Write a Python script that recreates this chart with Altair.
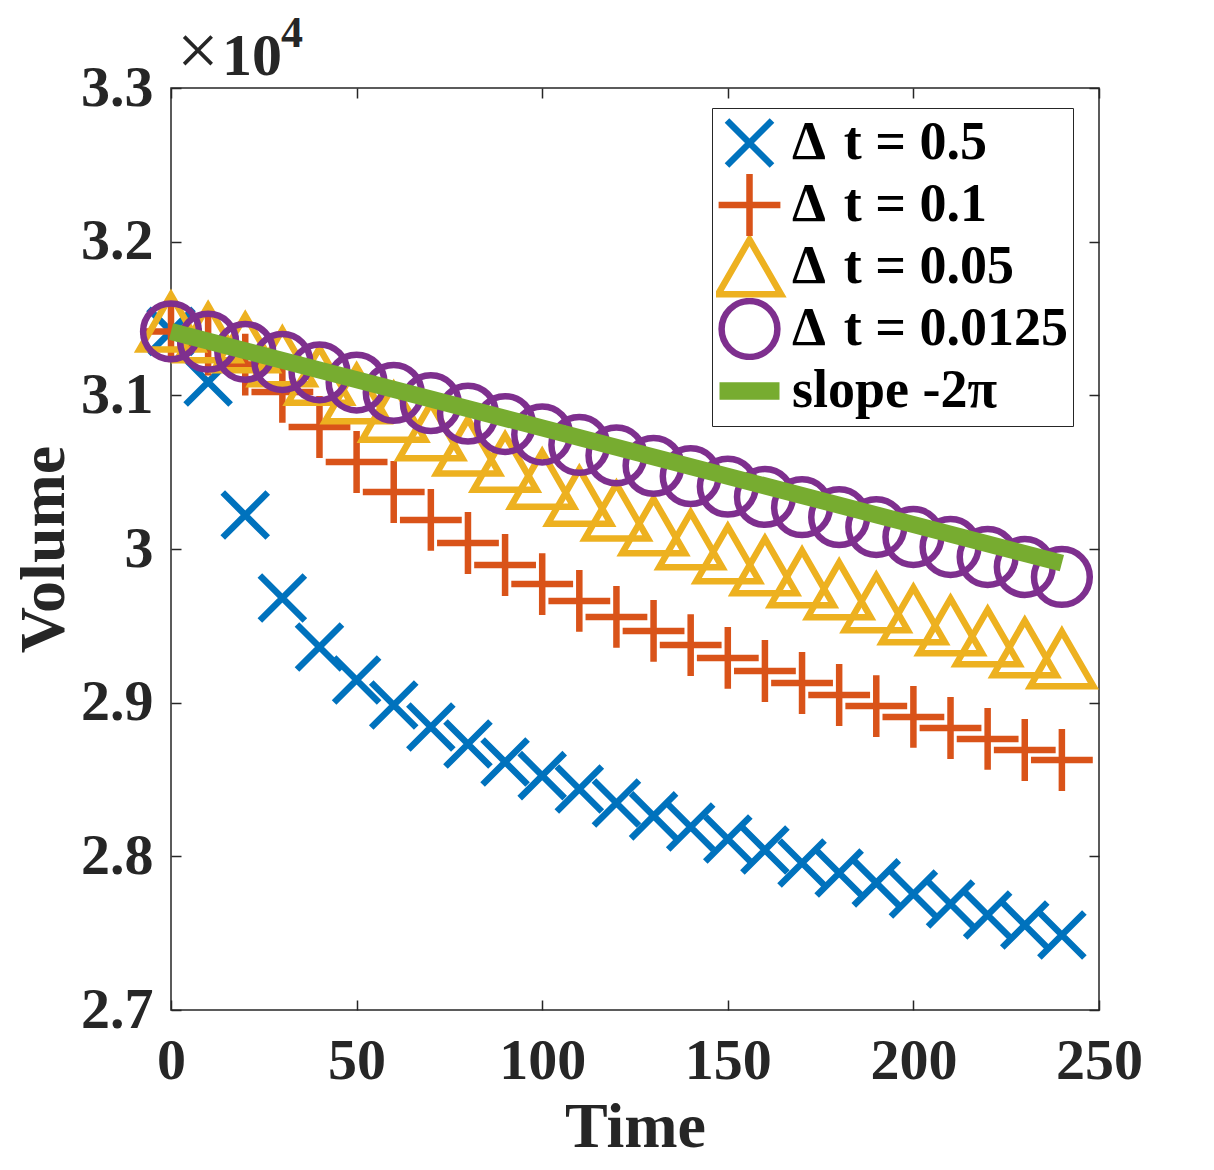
import altair as alt
import pandas as pd

# ---------------- data (volume in units of 1e4) ----------------
time = [0, 10, 20, 30, 40, 50, 60, 70, 80, 90, 100, 110, 120,
        130, 140, 150, 160, 170, 180, 190, 200, 210, 220, 230, 240]

vol_dt_0_5 = [3.1416, 3.1087, 3.0221, 2.9681, 2.9362, 2.9148, 2.8985, 2.8842,
              2.8731, 2.8614, 2.8525, 2.8438, 2.8347, 2.8263, 2.8191, 2.8113,
              2.8041, 2.7957, 2.7892, 2.7827, 2.7755, 2.7690, 2.7618, 2.7553, 2.7488]
vol_dt_0_1 = [3.1416, 3.1330, 3.1200, 3.1022, 3.0794, 3.0566, 3.0371, 3.0189,
              3.0039, 2.9896, 2.9772, 2.9662, 2.9558, 2.9467, 2.9375, 2.9291,
              2.9206, 2.9128, 2.9050, 2.8978, 2.8907, 2.8835, 2.8764, 2.8692, 2.8627]
vol_dt_0_05 = [3.1475, 3.1406, 3.1341, 3.1249, 3.1129, 3.1009, 3.0889, 3.0768,
               3.0668, 3.0563, 3.0453, 3.0342, 3.0245, 3.0149, 3.0059, 2.9968,
               2.9890, 2.9812, 2.9734, 2.9649, 2.9571, 2.9499, 2.9428, 2.9356, 2.9285]
vol_dt_0_0125 = [3.1416, 3.1349, 3.1283, 3.1217, 3.1150, 3.1083, 3.1016, 3.0949,
                 3.0881, 3.0813, 3.0745, 3.0677, 3.0609, 3.0541, 3.0474, 3.0406,
                 3.0339, 3.0272, 3.0207, 3.0143, 3.0078, 3.0013, 2.9948, 2.9883, 2.9818]
slope_time = [0, 240]
slope_vol = [3.14159, 2.99080]

series_names = ["Δ\u2004t = 0.5", "Δ\u2004t = 0.1", "Δ\u2004t = 0.05", "Δ\u2004t = 0.0125", "slope -2π"]
series_colors = ["#0072BD", "#D95319", "#EDB120", "#7E2F8E", "#77AC30"]

x_ticks = [0, 50, 100, 150, 200, 250]
y_ticks = [2.7, 2.8, 2.9, 3.0, 3.1, 3.2, 3.3]

# marker outlines (unit paths, scaled by sqrt(size)/2)
X_PATH = "M-0.75,-0.75L0.75,0.75M-0.75,0.75L0.75,-0.75"
PLUS_PATH = "M-1.03,0L1.03,0M0,-1.03L0,1.03"
TRI_PATH = "M0,-0.909L1.05,0.909L-1.05,0.909Z"
CIRC_PATH = "M0.93,0A0.93,0.93,0,1,1,-0.93,0A0.93,0.93,0,1,1,0.93,0Z"
BAR_PATH = "M-1,-0.18L1,-0.18M-1,-0.09L1,-0.09M-1,0L1,0M-1,0.09L1,0.09M-1,0.18L1,0.18"
series_shapes = [X_PATH, PLUS_PATH, TRI_PATH, CIRC_PATH, BAR_PATH]

rows = []
for name, vals in zip(series_names[:4], [vol_dt_0_5, vol_dt_0_1, vol_dt_0_05, vol_dt_0_0125]):
    for t, v in zip(time, vals):
        rows.append({"time": t, "volume": v, "series": name})
df = pd.DataFrame(rows)
slope_df = pd.DataFrame({"time": slope_time, "volume": slope_vol})

FONT = "Liberation Serif"
AX = "#262626"

xs = alt.Scale(domain=[0, 250], nice=False, zero=False)
ys = alt.Scale(domain=[2.7, 3.3], nice=False, zero=False)

legend = alt.Legend(
    title=None, orient="none", legendX=541, legendY=20, direction="vertical",
    labelFont=FONT, labelFontWeight="bold", labelFontSize=54, labelColor="black",
    labelLimit=600, labelOffset=9, symbolSize=3600, symbolStrokeWidth=6.5,
    padding=4, rowPadding=0, clipHeight=62, strokeColor=AX, fillColor="white", zindex=1,
)

common_axis = dict(
    grid=False, domain=False, ticks=True, tickSize=10, tickWidth=1.5,
    tickColor=AX, offset=-10, labelFont=FONT, labelFontWeight="bold",
    labelColor=AX, titleFont=FONT, titleFontWeight="bold", titleColor=AX,
    labelFlush=False,
)

points = alt.Chart(df).mark_point(
    filled=False, opacity=1, strokeWidth=6.5, size=3600, strokeJoin="miter"
).encode(
    x=alt.X("time:Q", scale=xs, axis=alt.Axis(
        orient="bottom", values=x_ticks, labelFontSize=58, labelPadding=22,
        title="Time", titleFontSize=64, titlePadding=5, format="d", **common_axis)),
    y=alt.Y("volume:Q", scale=ys, axis=alt.Axis(
        orient="left", values=y_ticks, labelFontSize=58, labelPadding=18,
        labelExpr="format(datum.value, '.1~f')",
        title="Volume", titleFontSize=64, titlePadding=4, **common_axis)),
    color=alt.Color("series:N", scale=alt.Scale(domain=series_names, range=series_colors), legend=legend),
    shape=alt.Shape("series:N", scale=alt.Scale(domain=series_names, range=series_shapes), legend=legend),
)

slope_line = alt.Chart(slope_df).mark_line(
    strokeWidth=17, strokeCap="butt", color="#77AC30"
).encode(
    x=alt.X("time:Q", scale=xs, axis=None),
    y=alt.Y("volume:Q", scale=ys, axis=None),
)

frame = alt.Chart(slope_df).mark_point(opacity=0).encode(
    x=alt.X("time:Q", scale=xs, axis=alt.Axis(
        orient="top", values=x_ticks, labels=False, title=None, **common_axis)),
    y=alt.Y("volume:Q", scale=ys, axis=alt.Axis(
        orient="right", values=y_ticks, labels=False, title=None, **common_axis)),
)

times_sign = alt.Chart(pd.DataFrame({"s": ["×"]})).mark_text(
    font=FONT, fontSize=74, fontWeight="normal", color=AX, align="left", baseline="alphabetic"
).encode(text="s:N", x=alt.value(6), y=alt.value(-13))

ten = alt.Chart(pd.DataFrame({"s": ["10"]})).mark_text(
    font=FONT, fontSize=60, fontWeight="bold", color=AX, align="left", baseline="alphabetic"
).encode(text="s:N", x=alt.value(51), y=alt.value(-13))

exponent = alt.Chart(pd.DataFrame({"s": ["4"]})).mark_text(
    font=FONT, fontSize=44, fontWeight="bold", color=AX, align="left", baseline="alphabetic"
).encode(text="s:N", x=alt.value(110), y=alt.value(-41))

chart = alt.layer(points, slope_line, frame, times_sign, ten, exponent).resolve_axis(
    x="independent", y="independent"
).properties(
    width=928, height=922,
    autosize=alt.AutoSizeParams(type="none"),
    padding={"left": 163, "top": 80, "right": 107, "bottom": 152},
).configure_view(stroke=AX, strokeWidth=1.5)

chart.save("out.html", embed_options={"renderer": "svg", "actions": False})
